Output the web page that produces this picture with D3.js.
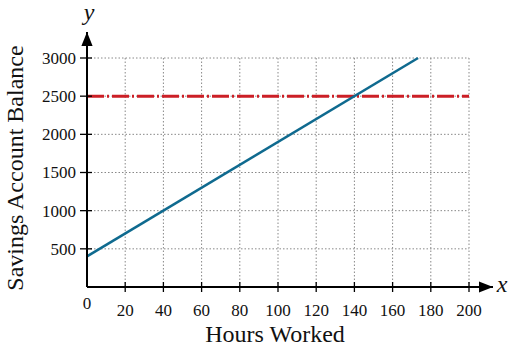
<!DOCTYPE html>
<html>
<head>
<meta charset="utf-8">
<script src="https://cdn.jsdelivr.net/npm/d3@7"></script>
<style>
  body { margin: 0; background: #fff; }
  text { font-family: "Liberation Serif", "DejaVu Serif", serif; fill: #111; }
</style>
</head>
<body>
<div id="chart"></div>
<script>
// chart data
const xTicks = [20, 40, 60, 80, 100, 120, 140, 160, 180, 200];
const yTicks = [500, 1000, 1500, 2000, 2500, 3000];
const balanceLine = [[0, 400], [173.33, 3000]];   // y = 15x + 400
const goalLine = [[0, 2500], [200, 2500]];

const width = 509, height = 352;
const margin = { left: 87, top: 58, right: 40, bottom: 65 };

const svg = d3.select("#chart").append("svg")
    .attr("width", width)
    .attr("height", height);

const x = d3.scaleLinear().domain([0, 200]).range([87, 469]);
const y = d3.scaleLinear().domain([0, 3000]).range([287, 58]);

// grid
let grid = svg.append("g")
    .attr("stroke", "#888")
    .attr("stroke-width", 1)
    .attr("stroke-dasharray", "1.5,2");

grid.selectAll(".vg")
    .data(xTicks)
    .enter().append("line")
    .attr("x1", d => x(d)).attr("x2", d => x(d))
    .attr("y1", y(0)).attr("y2", y(3000));

grid.selectAll(".hg")
    .data(yTicks)
    .enter().append("line")
    .attr("x1", x(0)).attr("x2", x(200))
    .attr("y1", d => y(d)).attr("y2", d => y(d));

// arrow marker
svg.append("defs").append("marker")
    .attr("id", "arrow")
    .attr("viewBox", "0 0 10 10")
    .attr("refX", 10).attr("refY", 5)
    .attr("markerWidth", 7).attr("markerHeight", 7)
    .attr("orient", "auto")
    .attr("markerUnits", "strokeWidth")
    .append("path")
    .attr("d", "M0,1 L10,5 L0,9 Z")
    .attr("fill", "#000");

// goal line (dash-dot)
const line = d3.line().x(d => x(d[0])).y(d => y(d[1]));

svg.append("path")
    .datum(goalLine)
    .attr("d", line)
    .attr("fill", "none")
    .attr("stroke", "#cc1f26")
    .attr("stroke-width", 3)
    .attr("stroke-dasharray", "17,3,2,3");

svg.append("path")
    .datum(balanceLine)
    .attr("d", line)
    .attr("fill", "none")
    .attr("stroke", "#0f6a8f")
    .attr("stroke-width", 2.6);

// axes
svg.append("line")
    .attr("x1", x(0)).attr("x2", 493)
    .attr("y1", y(0)).attr("y2", y(0))
    .attr("stroke", "#000").attr("stroke-width", 2)
    .attr("marker-end", "url(#arrow)");

svg.append("line")
    .attr("x1", x(0)).attr("x2", x(0))
    .attr("y1", y(0)).attr("y2", 32)
    .attr("stroke", "#000").attr("stroke-width", 2)
    .attr("marker-end", "url(#arrow)");

// ticks
svg.selectAll(".xt")
    .data(xTicks)
    .enter().append("line")
    .attr("x1", d => x(d)).attr("x2", d => x(d))
    .attr("y1", y(0) - 5).attr("y2", y(0) + 5)
    .attr("stroke", "#000").attr("stroke-width", 1.3);

svg.selectAll(".yt")
    .data(yTicks)
    .enter().append("line")
    .attr("x1", x(0) - 7).attr("x2", x(0) + 5)
    .attr("y1", d => y(d)).attr("y2", d => y(d))
    .attr("stroke", "#000").attr("stroke-width", 1.3);

// tick labels
svg.selectAll(".xl")
    .data(xTicks)
    .enter().append("text")
    .attr("x", d => x(d))
    .attr("y", y(0) + 29)
    .attr("text-anchor", "middle")
    .style("font-size", "17px")
    .text(d => d);

svg.append("text")
    .attr("x", x(0))
    .attr("y", y(0) + 22)
    .attr("text-anchor", "middle")
    .style("font-size", "17px")
    .text("0");

svg.selectAll(".yl")
    .data(yTicks)
    .enter().append("text")
    .attr("x", 76)
    .attr("y", d => y(d))
    .attr("dy", "0.35em")
    .attr("text-anchor", "end")
    .style("font-size", "17px")
    .text(d => d);

// axis titles
svg.append("text")
    .attr("x", 275)
    .attr("y", 342)
    .attr("text-anchor", "middle")
    .style("font-size", "24px")
    .text("Hours Worked");

svg.append("text")
    .attr("transform", "translate(23,168) rotate(-90)")
    .attr("text-anchor", "middle")
    .style("font-size", "24px")
    .text("Savings Account Balance");

svg.append("text")
    .attr("x", 89)
    .attr("y", 20)
    .attr("text-anchor", "middle")
    .style("font-size", "24px")
    .style("font-style", "italic")
    .text("y");

svg.append("text")
    .attr("x", 502)
    .attr("y", 292)
    .attr("text-anchor", "middle")
    .style("font-size", "24px")
    .style("font-style", "italic")
    .text("x");
</script>
</body>
</html>
